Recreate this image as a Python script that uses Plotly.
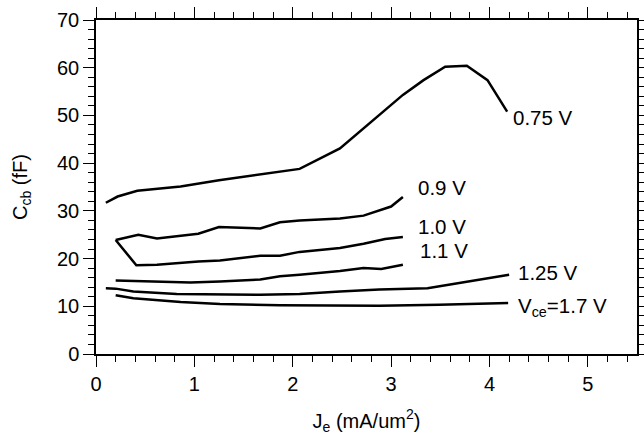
import plotly.graph_objects as go

x_075 = [0.10, 0.22, 0.42, 0.86, 1.25, 1.67, 2.07, 2.48, 2.88, 3.12, 3.33, 3.55, 3.77, 3.98, 4.18]
y_075 = [31.7, 33.0, 34.2, 35.1, 36.4, 37.7, 38.8, 43.1, 50.1, 54.3, 57.4, 60.2, 60.4, 57.4, 50.8]

x_09 = [0.20, 0.43, 0.62, 0.84, 1.04, 1.25, 1.67, 1.87, 2.07, 2.48, 2.72, 3.00, 3.12]
y_09 = [23.9, 25.0, 24.2, 24.7, 25.2, 26.6, 26.3, 27.6, 28.0, 28.4, 29.0, 30.9, 32.9]

x_10 = [0.20, 0.41, 0.62, 1.04, 1.26, 1.67, 1.87, 2.07, 2.48, 2.72, 2.94, 3.12]
y_10 = [23.9, 18.6, 18.7, 19.4, 19.6, 20.6, 20.6, 21.4, 22.2, 23.1, 24.1, 24.5]

x_11 = [0.20, 0.62, 0.96, 1.26, 1.67, 1.87, 2.07, 2.48, 2.72, 2.90, 3.12]
y_11 = [15.4, 15.2, 15.0, 15.2, 15.6, 16.3, 16.6, 17.4, 18.0, 17.8, 18.7]

x_125 = [0.10, 0.20, 0.38, 0.82, 1.67, 2.07, 2.48, 2.88, 3.37, 3.73, 4.00, 4.20]
y_125 = [13.8, 13.7, 13.1, 12.6, 12.4, 12.6, 13.1, 13.5, 13.8, 15.0, 15.8, 16.6]

x_17 = [0.20, 0.38, 0.86, 1.26, 1.87, 2.48, 2.88, 3.49, 4.19]
y_17 = [12.3, 11.7, 10.9, 10.5, 10.2, 10.1, 10.1, 10.3, 10.7]

labels = ["0.75 V", "0.9 V", "1.0 V", "1.1 V", "1.25 V", "V<sub>ce</sub>=1.7 V"]
label_x = [4.23, 3.26, 3.26, 3.28, 4.285, 4.285]
label_y = [49.5, 35.0, 26.7, 21.6, 17.1, 9.9]

FONT = "Arial, Liberation Sans, Helvetica, sans-serif"

fig = go.Figure()
for xs, ys in [(x_075, y_075), (x_09, y_09), (x_10, y_10), (x_11, y_11), (x_125, y_125), (x_17, y_17)]:
    fig.add_trace(go.Scatter(x=xs, y=ys, mode="lines",
                             line=dict(color="black", width=2.5), showlegend=False))

for t, lx, ly in zip(labels, label_x, label_y):
    fig.add_annotation(x=lx, y=ly, text=t, showarrow=False, xanchor="left", yanchor="middle",
                       borderpad=0,
                       font=dict(family=FONT, size=20.5, color="black"))

axis_common = dict(showgrid=False, zeroline=False, showline=True, linecolor="black", linewidth=1.5,
                   ticks="outside", ticklen=11, tickwidth=1.2, tickcolor="black", mirror="ticks",
                   automargin=False,
                   tickfont=dict(family=FONT, size=20, color="black"))

fig.update_xaxes(range=[0, 5.5], dtick=1, tick0=0,
                 minor=dict(dtick=0.2, ticklen=6, ticks="outside", tickcolor="black", tickwidth=1),
                 title=dict(text="J<sub>e</sub> (mA/um<sup>2</sup>)", font=dict(family=FONT, size=20, color="black"),
                            standoff=20),
                 **axis_common)
fig.update_yaxes(range=[0, 70], dtick=10, tick0=0,
                 minor=dict(dtick=2, ticklen=6, ticks="outside", tickcolor="black", tickwidth=1),
                 title=dict(text="C<sub>cb</sub> (fF)", font=dict(family=FONT, size=20, color="black"),
                            standoff=24),
                 **axis_common)

fig.update_layout(width=644, height=437, margin=dict(l=95.5, r=6.5, t=20, b=82.7),
                  plot_bgcolor="white", paper_bgcolor="white")

fig.write_html("out.html")
